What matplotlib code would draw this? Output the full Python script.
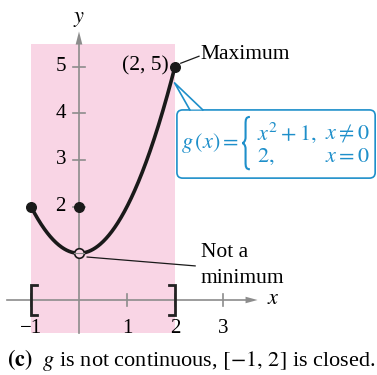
import matplotlib
matplotlib.use("Agg")
import matplotlib.pyplot as plt
from matplotlib.patches import FancyBboxPatch, Rectangle, Polygon, PathPatch
from matplotlib.path import Path
import numpy as np

plt.rcParams["font.family"] = ["Liberation Serif", "DejaVu Serif"]
plt.rcParams["mathtext.fontset"] = "stix"

# data
x_ticks = [-1, 1, 2, 3]
y_ticks = [2, 3, 4, 5]
interval = [-1, 2]
filled_x = [-1, 0, 2]
filled_y = [2, 2, 5]
open_x = [0]
open_y = [1]

def g(x):
    return x**2 + 1

PINK = "#f9d5e5"
GRAY = "#8c8c8c"
BLUE = "#1e8fca"
INK = "#1a1a1a"

fig = plt.figure(figsize=(3.77, 3.75), dpi=100)
ax = fig.add_axes([0, 0, 1, 1])
# pixel mapping: x0 at px 79, 48 px/unit ; y0 at row 300, 46.7 px/unit
ax.set_xlim(-79 / 48, (377 - 79) / 48)
ax.set_ylim(-75 / 46.7, 300 / 46.7)
ax.axis("off")

# shaded interval
ax.add_patch(Rectangle((interval[0], -0.71), interval[1] - interval[0], 6.19,
                       fc=PINK, ec="none", zorder=0))

# axes with arrows
ax.plot([-1.5, 3.6], [0, 0], color=GRAY, lw=1.2, zorder=1)
ax.plot([0, 0], [-0.71, 5.6], color=GRAY, lw=1.2, zorder=1)
ax.add_patch(Polygon([[3.72, 0], [3.47, 0.07], [3.47, -0.07]], closed=True, fc=GRAY, ec="none"))
ax.add_patch(Polygon([[0, 5.75], [-0.07, 5.47], [0.07, 5.47]], closed=True, fc=GRAY, ec="none"))
ax.text(4.05, 0, "$x$", fontsize=16, ha="center", va="center")
ax.text(0, 6.0, "$y$", fontsize=16, ha="center", va="center")

for t in x_ticks:
    ax.plot([t, t], [-0.13, 0.13], color=GRAY, lw=1.2, zorder=1)
    lab = "\u2212" + str(-t) if t < 0 else str(t)
    ax.text(t, -0.6, lab, fontsize=15, ha="center", va="center")
for t in y_ticks:
    ax.plot([-0.13, 0.13], [t, t], color=GRAY, lw=1.2, zorder=1)
    ax.text(-0.38, t, str(t), fontsize=15, ha="center", va="center")

# brackets of the closed interval
for xb, d in [(interval[0], 1), (interval[1], -1)]:
    ax.plot([xb + d * 0.12, xb, xb, xb + d * 0.12], [0.33, 0.33, -0.33, -0.33],
            color="#222222", lw=2.0, zorder=3, solid_joinstyle="miter")

# curve
xs = np.linspace(interval[0], interval[1], 300)
ax.plot(xs, g(xs), color=INK, lw=2.6, zorder=4)
ax.scatter(filled_x, filled_y, s=48, color=INK, zorder=5)
ax.scatter(open_x, open_y, s=48, facecolor=PINK, edgecolor=INK, lw=1.2, zorder=5)
ax.plot([-0.1, 0.1], [1, 1], color=GRAY, lw=0.8, zorder=6)

# annotations
ax.text(1.86, 5.02, "(2, 5)", fontsize=15.5, ha="right", va="center")
ax.plot([2.12, 2.5], [5.07, 5.22], color=INK, lw=0.9)
ax.text(2.54, 5.25, "Maximum", fontsize=15.5, ha="left", va="center")
ax.plot([0.17, 2.42], [0.92, 0.73], color=INK, lw=0.9)
ax.text(2.54, 1.02, "Not a", fontsize=15.5, ha="left", va="center")
ax.text(2.54, 0.47, "minimum", fontsize=15.5, ha="left", va="center")

# callout box
box = FancyBboxPatch((2.04, 2.61), 4.13, 1.46, boxstyle="round,pad=0,rounding_size=0.12",
                     fc="white", ec=BLUE, lw=1.2, zorder=6)
ax.add_patch(box)
ax.add_patch(Polygon([[2.31, 4.08], [1.99, 4.65], [2.58, 4.08]], closed=True,
                     fc="white", ec="none", zorder=7))
ax.plot([2.31, 1.99, 2.58], [4.07, 4.65, 4.07], color=BLUE, lw=1.2, zorder=7)
ax.text(2.13, 3.36, r"$g\,(x) =$", fontsize=16, color=BLUE, ha="left", va="center", zorder=8)
# curly brace
bx0, bx1, bt, bm, bb = 3.40, 3.56, 3.92, 3.36, 2.80
bc = bx0 + 0.07
verts = [(bx1, bt),
         (bc + 0.01, bt), (bc, bt - 0.05), (bc, bt - 0.15),
         (bc, bm + 0.12),
         (bc, bm + 0.05), (bx0 + 0.03, bm), (bx0, bm),
         (bx0 + 0.03, bm), (bc, bm - 0.05), (bc, bm - 0.12),
         (bc, bb + 0.15),
         (bc, bb + 0.05), (bc + 0.01, bb), (bx1, bb)]
codes = [Path.MOVETO,
         Path.CURVE4, Path.CURVE4, Path.CURVE4,
         Path.LINETO,
         Path.CURVE4, Path.CURVE4, Path.CURVE4,
         Path.CURVE4, Path.CURVE4, Path.CURVE4,
         Path.LINETO,
         Path.CURVE4, Path.CURVE4, Path.CURVE4]
ax.add_patch(PathPatch(Path(verts, codes), fc="none", ec=BLUE, lw=1.5, zorder=8))
ax.text(3.71, 3.58, r"$x^2 + 1,$", fontsize=16, color=BLUE, ha="left", va="center", zorder=8)
ax.text(3.71, 3.06, r"$2,$", fontsize=16, color=BLUE, ha="left", va="center", zorder=8)
ax.text(6.05, 3.58, r"$x \neq 0$", fontsize=16, color=BLUE, ha="right", va="center", zorder=8)
ax.text(6.05, 3.06, r"$x = 0$", fontsize=16, color=BLUE, ha="right", va="center", zorder=8)

# caption
ax.text(-1.5, -1.28, r"$\mathbf{(c)}$  $g$ is not continuous, $[-1,\,2]$ is closed.",
        fontsize=16, ha="left", va="center")

fig.savefig("out.png", dpi=100)
